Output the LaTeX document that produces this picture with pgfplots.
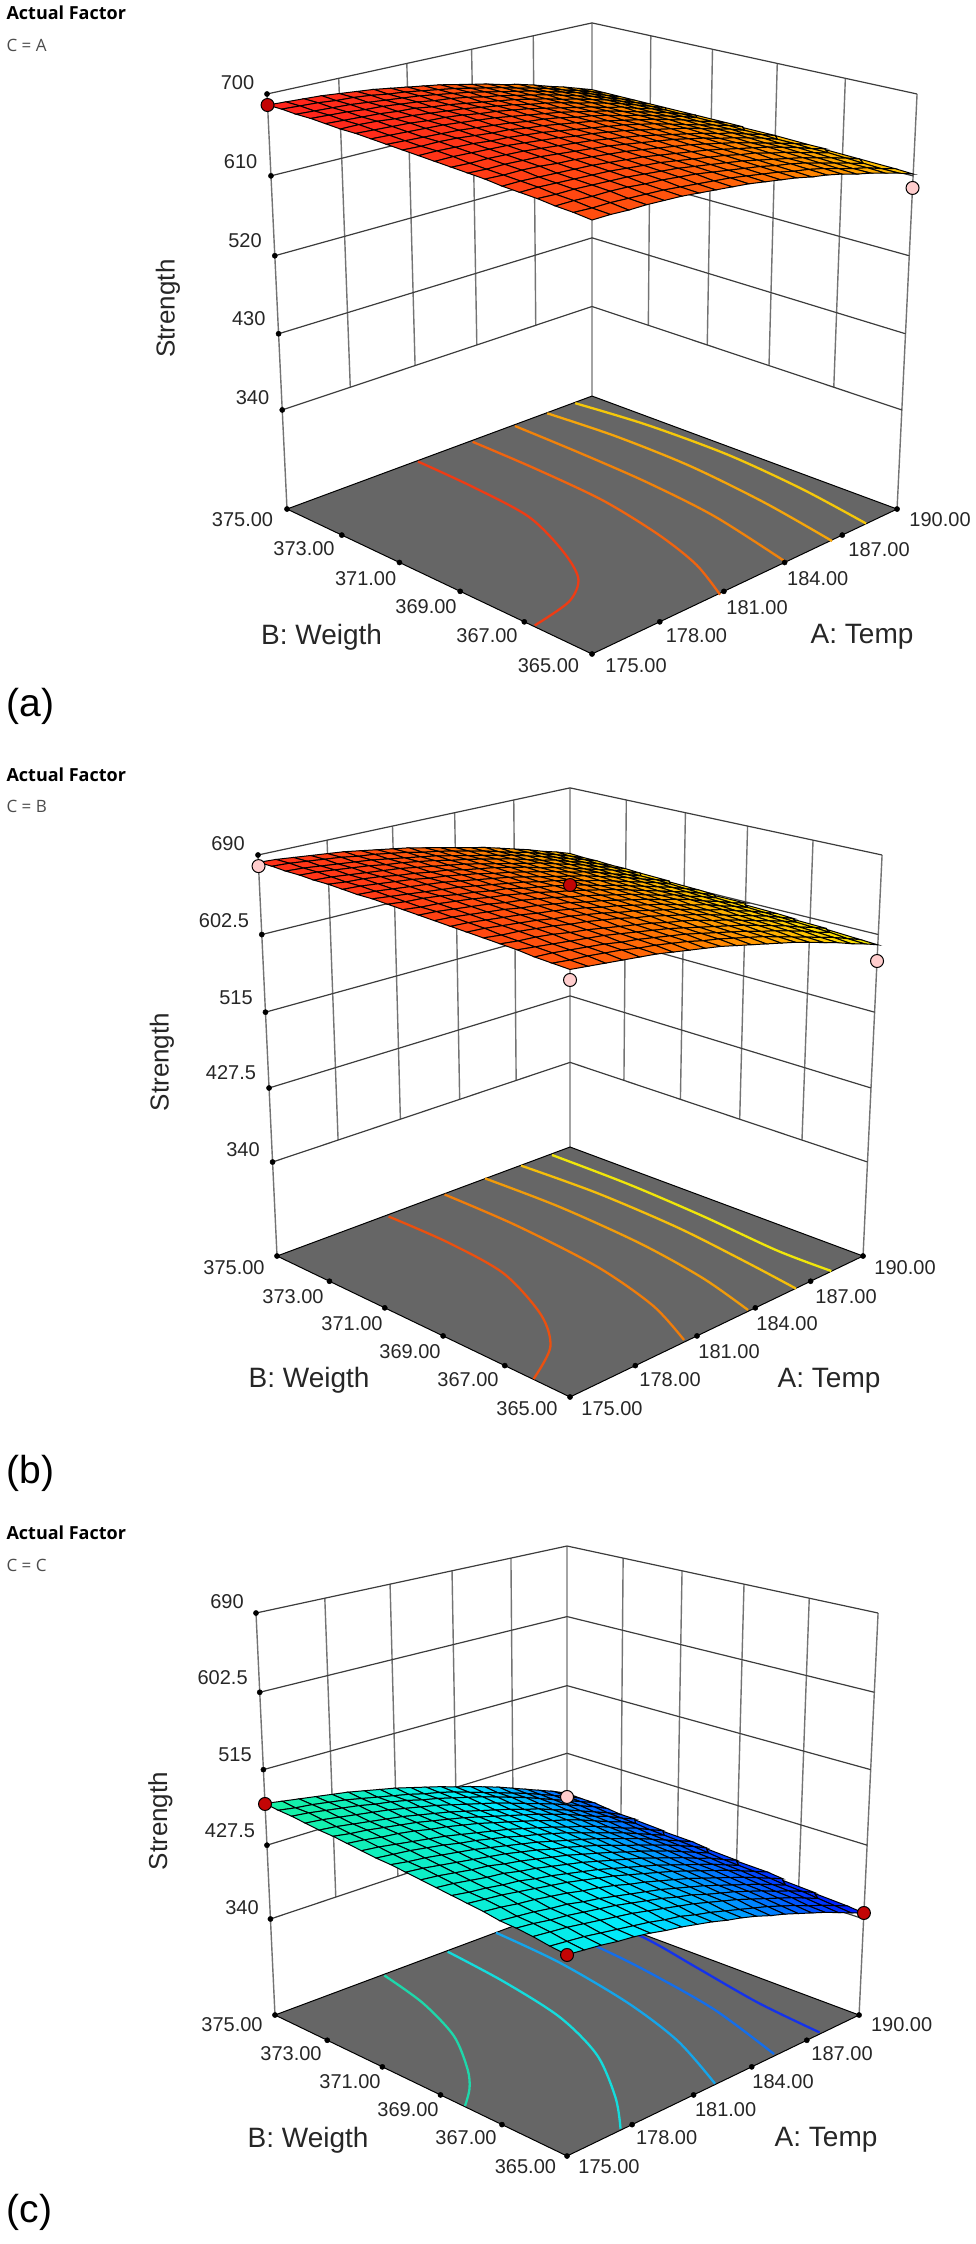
\documentclass[border=0pt]{standalone}
\usepackage{pgfplots}
\pgfplotsset{compat=1.18}
\usepackage{fontspec}
\setmainfont{Liberation Sans}
\newfontfamily\factorfont{Open Sans}
\definecolor{gridc}{RGB}{60,60,60}
\definecolor{gridv}{RGB}{115,115,115}
\definecolor{floorc}{RGB}{102,102,102}
\definecolor{mred}{RGB}{195,5,5}
\definecolor{mpink}{RGB}{255,205,205}
\definecolor{ca1}{RGB}{238,60,20}
\definecolor{ca2}{RGB}{240,100,15}
\definecolor{ca3}{RGB}{240,130,10}
\definecolor{ca4}{RGB}{245,165,10}
\definecolor{ca5}{RGB}{245,200,10}
\definecolor{cb1}{RGB}{235,80,15}
\definecolor{cb2}{RGB}{240,125,10}
\definecolor{cb3}{RGB}{240,155,10}
\definecolor{cb4}{RGB}{245,190,10}
\definecolor{cb5}{RGB}{240,230,10}
\definecolor{cc1}{RGB}{30,215,170}
\definecolor{cc2}{RGB}{20,220,220}
\definecolor{cc3}{RGB}{20,165,235}
\definecolor{cc4}{RGB}{20,110,235}
\definecolor{cc5}{RGB}{20,50,235}
\pgfplotsset{
 /pgfplots/table/pa/.style={x expr={Xa(\thisrow{A},\thisrow{B},\thisrow{S})},y expr={Ya(\thisrow{A},\thisrow{B},\thisrow{S})},z expr=0},
 /pgfplots/table/pb/.style={x expr={Xb(\thisrow{A},\thisrow{B},\thisrow{S})},y expr={Yb(\thisrow{A},\thisrow{B},\thisrow{S})},z expr=0},
 /pgfplots/table/pc/.style={x expr={Xc(\thisrow{A},\thisrow{B},\thisrow{S})},y expr={Yc(\thisrow{A},\thisrow{B},\thisrow{S})},z expr=0},
 gridl/.style={gridc,line width=1.2pt,no marks,empty line=jump,unbounded coords=jump},
 gridw/.style={gridv,line width=1.4pt,no marks,empty line=jump,unbounded coords=jump},
 dots/.style={only marks,mark=*,mark size=2.6pt,black,mark options={fill=black,draw=black}},
 mk/.style={only marks,mark=*,mark size=6.5pt,mark options={fill=#1,draw=black,line width=1pt}},
 cont/.style={smooth,no marks,line width=2.3pt,color=#1},
 srf/.style={surf,shader=faceted,faceted color=black,line width=1pt,mesh/rows=21,mesh/cols=21,
 point meta min=340,point meta max=690,point meta=\thisrowno{0}},
}
\newcommand\tl[3]{\node[font=\fontsize{20}{20}\selectfont,text=black!85] at (axis cs:#1,#2,0) {#3};}
\newcommand\al[3]{\node[font=\fontsize{28}{28}\selectfont,text=black!85] at (axis cs:#1,#2,0) {#3};}
\newcommand\hdr[3]{%
\node[anchor=west,font=\factorfont\bfseries\fontsize{18}{18}\selectfont] at (axis cs:3,#1,0) {Actual Factor};
\node[anchor=west,font=\factorfont\fontsize{17}{17}\selectfont,text=black!70] at (axis cs:3,#2,0) {#3};}
\begin{document}
\begin{tikzpicture}
\useasboundingbox (0,0) rectangle (975pt,2244pt);
\begin{axis}[at={(0,0)},anchor=south west,width=975pt,height=2244pt,scale only axis,
 hide axis,clip=false,view={0}{90},xmin=0,xmax=975,ymin=0,ymax=2244,zmin=-1,zmax=1,y dir=reverse,
 colormap={de}{rgb255=(0,0,255) rgb255=(0,110,255) rgb255=(0,235,255) rgb255=(20,240,170) rgb255=(60,255,60) rgb255=(170,255,0) rgb255=(255,220,0) rgb255=(255,125,0) rgb255=(255,30,30)},
 declare function={
 ss(\pp,\qq)=(\pp-175)/15+(\qq-365)/10;
 dd(\pp,\qq)=(\pp-175)/15-(\qq-365)/10;
 fa(\rr)=(\rr-219.7)/480.3;
 Da(\pp,\qq,\rr)=1+0.1416*ss(\pp,\qq)-0.0702*fa(\rr);
 Xa(\pp,\qq,\rr)=592+348.2*dd(\pp,\qq)/Da(\pp,\qq,\rr);
 Ya(\pp,\qq,\rr)=654-(165.5*ss(\pp,\qq)+434.5*fa(\rr))/Da(\pp,\qq,\rr);
 fb(\rr)=(\rr-225.9)/464.1;
 Db(\pp,\qq,\rr)=1+0.1468*ss(\pp,\qq)-0.0699*fb(\rr);
 Xb(\pp,\qq,\rr)=570+336.0*dd(\pp,\qq)/Db(\pp,\qq,\rr);
 Yb(\pp,\qq,\rr)=1397-(161.7*ss(\pp,\qq)+422.0*fb(\rr))/Db(\pp,\qq,\rr);
 fc(\rr)=(\rr-223)/467;
 Dc(\pp,\qq,\rr)=1+0.1468*ss(\pp,\qq)-0.07*fc(\rr);
 Xc(\pp,\qq,\rr)=567+334.9*dd(\pp,\qq)/Dc(\pp,\qq,\rr);
 Yc(\pp,\qq,\rr)=2156-(161.7*ss(\pp,\qq)+423.0*fc(\rr))/Dc(\pp,\qq,\rr);
 }]

% ---------- panel (a)
\addplot[gridw] table[pa] {
A B S
175 375 219.7
175 375 700

178 375 340
178 375 700

181 375 340
181 375 700

184 375 340
184 375 700

187 375 340
187 375 700

190 375 219.7
190 375 700

190 373 340
190 373 700

190 371 340
190 371 700

190 369 340
190 369 700

190 367 340
190 367 700

190 365 219.7
190 365 700
};
\addplot[gridl] table[pa] {
A B S
175 375 340
190 375 340
190 365 340

175 375 430
190 375 430
190 365 430

175 375 520
190 375 520
190 365 520

175 375 610
190 375 610
190 365 610

175 375 700
190 375 700
190 365 700
};
\addplot[fill=floorc,draw=black,line width=1pt] table[pa] {
A B S
175 365 219.7
190 365 219.7
190 375 219.7
175 375 219.7
175 365 219.7
};
\addplot[cont=ca1] coordinates {(418,461.5)(472.6,486.8)(528.5,516.6)(562.7,551)(578.3,578.6)(569,601.6)(534.7,625.4)};
\addplot[cont=ca2] coordinates {(472.6,441.8)(534.7,468.4)(603,500.5)(659,535)(696.4,564.8)(720,594.7)};
\addplot[cont=ca3] coordinates {(514.9,426)(578.3,452.3)(646.7,482.2)(715,516.6)(786.6,562.5)};
\addplot[cont=ca4] coordinates {(547.2,413.3)(615.6,436.2)(690.2,466.1)(764.8,502.8)(832,541)};
\addplot[cont=ca5] coordinates {(575.2,403.2)(646.7,424.8)(727.5,454.6)(802,489)(866,523.5)};
\addplot[dots] table[pa] {
A B S
175 365 219.7
178 365 219.7
181 365 219.7
184 365 219.7
187 365 219.7
190 365 219.7
175 367 219.7
175 369 219.7
175 371 219.7
175 373 219.7
175 375 219.7
175 375 340
175 375 430
175 375 520
175 375 610
175 375 700
};
\addplot3[srf]
 table[row sep=\\,header=false,
 x expr={Xa(190-mod(\coordindex,21)*0.75,375-floor(\coordindex/21)*0.5,\thisrowno{0})},
 y expr={Ya(190-mod(\coordindex,21)*0.75,375-floor(\coordindex/21)*0.5,\thisrowno{0})},z expr=0] {
618\\624\\630\\635\\641\\646\\650\\655\\659\\663\\667\\670\\673\\676\\679\\681\\683\\685\\686\\687\\688\\
618\\624\\630\\635\\641\\646\\650\\655\\659\\663\\667\\670\\673\\676\\678\\681\\683\\684\\686\\687\\688\\
618\\624\\630\\636\\641\\646\\651\\655\\659\\663\\667\\670\\673\\676\\678\\680\\682\\684\\685\\686\\687\\
618\\624\\630\\636\\641\\646\\651\\655\\659\\663\\666\\670\\673\\675\\678\\680\\682\\683\\685\\686\\687\\
618\\624\\630\\636\\641\\646\\650\\655\\659\\663\\666\\669\\672\\675\\677\\680\\681\\683\\684\\685\\686\\
618\\624\\630\\636\\641\\646\\650\\655\\659\\662\\666\\669\\672\\675\\677\\679\\681\\682\\684\\685\\685\\
618\\624\\630\\635\\641\\645\\650\\654\\658\\662\\666\\669\\672\\674\\677\\679\\680\\682\\683\\684\\685\\
618\\624\\630\\635\\640\\645\\650\\654\\658\\662\\665\\668\\671\\674\\676\\678\\680\\681\\682\\683\\684\\
618\\624\\630\\635\\640\\645\\649\\654\\658\\661\\665\\668\\670\\673\\675\\677\\679\\680\\681\\682\\683\\
618\\624\\629\\635\\640\\645\\649\\653\\657\\661\\664\\667\\670\\672\\675\\676\\678\\680\\681\\681\\682\\
618\\624\\629\\634\\639\\644\\649\\653\\657\\660\\663\\666\\669\\672\\674\\676\\677\\679\\680\\681\\681\\
617\\623\\629\\634\\639\\644\\648\\652\\656\\660\\663\\666\\668\\671\\673\\675\\677\\678\\679\\680\\680\\
617\\623\\628\\634\\638\\643\\647\\651\\655\\659\\662\\665\\668\\670\\672\\674\\676\\677\\678\\678\\679\\
617\\622\\628\\633\\638\\642\\647\\651\\655\\658\\661\\664\\667\\669\\671\\673\\675\\676\\677\\677\\678\\
616\\622\\627\\632\\637\\642\\646\\650\\654\\657\\660\\663\\666\\668\\670\\672\\673\\675\\676\\676\\677\\
616\\621\\627\\632\\637\\641\\645\\649\\653\\656\\659\\662\\665\\667\\669\\671\\672\\673\\674\\675\\675\\
615\\621\\626\\631\\636\\640\\645\\648\\652\\655\\658\\661\\664\\666\\668\\670\\671\\672\\673\\674\\674\\
614\\620\\625\\630\\635\\639\\643\\647\\651\\654\\657\\660\\663\\665\\667\\669\\670\\671\\672\\672\\673\\
614\\619\\624\\629\\634\\639\\643\\646\\650\\653\\656\\659\\662\\664\\666\\667\\669\\670\\670\\671\\671\\
613\\618\\624\\628\\633\\638\\642\\645\\649\\652\\655\\658\\660\\662\\664\\666\\667\\668\\669\\669\\670\\
612\\618\\623\\628\\632\\637\\641\\644\\648\\651\\654\\657\\659\\661\\663\\665\\666\\667\\667\\668\\668\\
};
\addplot[mk=mred] table[pa] {
A B S
175 375 688
};
\addplot[mk=mpink] table[pa] {
A B S
190 365 596.5
};
\tl{237.5}{83}{700}\tl{240.6}{162}{610}\tl{245}{240.6}{520}\tl{248.7}{319}{430}\tl{252.5}{398}{340}
\tl{242.5}{520}{375.00}\tl{304}{549}{373.00}\tl{365.6}{578.6}{371.00}\tl{426}{607}{369.00}\tl{487}{636}{367.00}\tl{548.4}{666}{365.00}
\tl{636}{666}{175.00}\tl{696.4}{636}{178.00}\tl{757}{607.5}{181.00}\tl{817.7}{578.6}{184.00}\tl{879}{550}{187.00}\tl{940}{520}{190.00}
\node[rotate=90,font=\fontsize{26}{26}\selectfont,text=black!85] at (axis cs:168,308.6,0) {Strength};
\al{321.5}{637}{B: Weigth}\al{862}{637}{A: Temp}
\hdr{13}{45}{C = A}
\node[anchor=west,font=\fontsize{39}{39}\selectfont] at (axis cs:3,706,0) {(a)};

% ---------- panel (b)
\addplot[gridw] table[pb] {
A B S
175 375 225.9
175 375 690

178 375 340
178 375 690

181 375 340
181 375 690

184 375 340
184 375 690

187 375 340
187 375 690

190 375 225.9
190 375 690

190 373 340
190 373 690

190 371 340
190 371 690

190 369 340
190 369 690

190 367 340
190 367 690

190 365 225.9
190 365 690
};
\addplot[gridl] table[pb] {
A B S
175 375 340
190 375 340
190 365 340

175 375 427.5
190 375 427.5
190 365 427.5

175 375 515
190 375 515
190 365 515

175 375 602.5
190 375 602.5
190 365 602.5

175 375 690
190 375 690
190 365 690
};
\addplot[fill=floorc,draw=black,line width=1pt] table[pb] {
A B S
175 365 225.9
190 365 225.9
190 375 225.9
175 375 225.9
175 365 225.9
};
\addplot[cont=cb1] coordinates {(388.6,1216.5)(447.7,1242.3)(503.7,1273.5)(541,1314.8)(550.3,1347)(533.5,1379)};
\addplot[cont=cb2] coordinates {(444.6,1194.5)(516,1225.3)(597,1266.6)(652.9,1305.6)(684,1340)};
\addplot[cont=cb3] coordinates {(485,1178.4)(559.6,1206.9)(640.5,1243.6)(702.6,1278)(748,1310)};
\addplot[cont=cb4] coordinates {(521,1165.6)(597,1193)(677.8,1227.6)(746,1262)(796,1288.6)};
\addplot[cont=cb5] coordinates {(552,1155)(628,1184)(702.6,1216)(777,1250.5)(831.3,1271)};
\addplot[dots] table[pb] {
A B S
175 365 225.9
178 365 225.9
181 365 225.9
184 365 225.9
187 365 225.9
190 365 225.9
175 367 225.9
175 369 225.9
175 371 225.9
175 373 225.9
175 375 225.9
175 375 340
175 375 427.5
175 375 515
175 375 602.5
175 375 690
};
\addplot3[srf]
 table[row sep=\\,header=false,
 x expr={Xb(190-mod(\coordindex,21)*0.75,375-floor(\coordindex/21)*0.5,\thisrowno{0})},
 y expr={Yb(190-mod(\coordindex,21)*0.75,375-floor(\coordindex/21)*0.5,\thisrowno{0})},z expr=0] {
609\\615\\620\\626\\631\\636\\641\\645\\649\\653\\657\\661\\664\\667\\670\\673\\675\\677\\679\\681\\682\\
608\\614\\620\\625\\631\\635\\640\\645\\649\\653\\657\\660\\664\\667\\670\\672\\675\\677\\679\\681\\682\\
608\\614\\619\\625\\630\\635\\640\\644\\648\\652\\656\\660\\663\\666\\669\\672\\674\\676\\678\\680\\681\\
607\\613\\619\\624\\630\\634\\639\\644\\648\\652\\656\\659\\663\\666\\669\\671\\674\\676\\678\\680\\681\\
607\\613\\618\\624\\629\\634\\639\\643\\647\\651\\655\\659\\662\\665\\668\\671\\673\\675\\677\\679\\680\\
606\\612\\618\\623\\628\\633\\638\\642\\647\\651\\655\\658\\661\\665\\667\\670\\672\\675\\677\\678\\680\\
606\\611\\617\\622\\628\\633\\637\\642\\646\\650\\654\\657\\661\\664\\667\\669\\672\\674\\676\\678\\679\\
605\\611\\616\\622\\627\\632\\637\\641\\645\\649\\653\\657\\660\\663\\666\\669\\671\\673\\675\\677\\678\\
604\\610\\616\\621\\626\\631\\636\\640\\645\\649\\652\\656\\659\\662\\665\\668\\670\\672\\674\\676\\678\\
603\\609\\615\\620\\625\\630\\635\\639\\644\\648\\652\\655\\658\\662\\664\\667\\669\\672\\674\\675\\677\\
602\\608\\614\\619\\624\\629\\634\\639\\643\\647\\651\\654\\658\\661\\664\\666\\669\\671\\673\\674\\676\\
601\\607\\613\\618\\624\\628\\633\\638\\642\\646\\650\\653\\657\\660\\663\\665\\668\\670\\672\\674\\675\\
601\\606\\612\\617\\623\\628\\632\\637\\641\\645\\649\\652\\656\\659\\662\\664\\667\\669\\671\\673\\674\\
599\\605\\611\\616\\622\\626\\631\\636\\640\\644\\648\\651\\655\\658\\661\\663\\666\\668\\670\\672\\673\\
598\\604\\610\\615\\621\\625\\630\\635\\639\\643\\647\\650\\654\\657\\660\\662\\665\\667\\669\\671\\672\\
597\\603\\609\\614\\619\\624\\629\\634\\638\\642\\646\\649\\653\\656\\659\\661\\664\\666\\668\\669\\671\\
596\\602\\608\\613\\618\\623\\628\\632\\637\\641\\644\\648\\651\\654\\657\\660\\662\\665\\667\\668\\670\\
595\\601\\606\\612\\617\\622\\627\\631\\635\\639\\643\\647\\650\\653\\656\\659\\661\\663\\665\\667\\669\\
594\\600\\605\\611\\616\\621\\625\\630\\634\\638\\642\\646\\649\\652\\655\\657\\660\\662\\664\\666\\667\\
592\\598\\604\\609\\614\\619\\624\\629\\633\\637\\641\\644\\648\\651\\654\\656\\659\\661\\663\\664\\666\\
591\\597\\602\\608\\613\\618\\623\\627\\631\\635\\639\\643\\646\\649\\652\\655\\657\\659\\661\\663\\665\\
};
\addplot[mk=mpink] table[pb] {
A B S
175 375 677.9
175 365 654.9
190 365 572.9
};
\addplot[mk=mred] table[pb] {
A B S
190 375 569.5
};
\tl{228}{844}{690}\tl{224}{921}{602.5}\tl{236}{998}{515}\tl{231}{1073}{427.5}\tl{243}{1150}{340}
\tl{234}{1267.5}{375.00}\tl{293}{1296.5}{373.00}\tl{352}{1324}{371.00}\tl{410}{1352}{369.00}\tl{468}{1380}{367.00}\tl{527}{1408.5}{365.00}
\tl{612}{1408.5}{175.00}\tl{670}{1380}{178.00}\tl{729}{1352}{181.00}\tl{787}{1324}{184.00}\tl{846}{1296.5}{187.00}\tl{905}{1267.5}{190.00}
\node[rotate=90,font=\fontsize{26}{26}\selectfont,text=black!85] at (axis cs:162,1062,0) {Strength};
\al{309}{1380.5}{B: Weigth}\al{829}{1380.5}{A: Temp}
\hdr{775}{806}{C = B}
\node[anchor=west,font=\fontsize{39}{39}\selectfont] at (axis cs:3,1473,0) {(b)};

% ---------- panel (c)
\addplot[gridw] table[pc] {
A B S
175 375 223
175 375 690

178 375 340
178 375 690

181 375 340
181 375 690

184 375 340
184 375 690

187 375 340
187 375 690

190 375 223
190 375 690

190 373 340
190 373 690

190 371 340
190 371 690

190 369 340
190 369 690

190 367 340
190 367 690

190 365 223
190 365 690
};
\addplot[gridl] table[pc] {
A B S
175 375 340
190 375 340
190 365 340

175 375 427.5
190 375 427.5
190 365 427.5

175 375 515
190 375 515
190 365 515

175 375 602.5
190 375 602.5
190 365 602.5

175 375 690
190 375 690
190 365 690
};
\addplot[mk=mpink] table[pc] {
A B S
190 375 370
};
\addplot[fill=floorc,draw=black,line width=1pt] table[pc] {
A B S
175 365 223
190 365 223
190 375 223
175 375 223
175 365 223
};
\addplot[cont=cc1] coordinates {(384.3,1975.4)(422.8,2003)(453.9,2036)(467.6,2069.4)(469.5,2088.4)(465,2106)};
\addplot[cont=cc2] coordinates {(447.7,1951.7)(503.7,1981.6)(559.6,2017)(597,2055)(615.6,2097.9)(620.5,2128.7)};
\addplot[cont=cc3] coordinates {(496,1932.7)(559.6,1962.6)(628,2003)(677.8,2041)(715,2083.6)};
\addplot[cont=cc4] coordinates {(522,1913)(606,1950.8)(652.9,1974.5)(715,2010)(774,2054)};
\addplot[cont=cc5] coordinates {(578,1908)(646.7,1939)(696.4,1967.4)(758.6,2003)(819.5,2032.4)};
\addplot[dots] table[pc] {
A B S
175 365 223
178 365 223
181 365 223
184 365 223
187 365 223
190 365 223
175 367 223
175 369 223
175 371 223
175 373 223
175 375 223
175 375 340
175 375 427.5
175 375 515
175 375 602.5
175 375 690
};
\addplot3[srf]
 table[row sep=\\,header=false,
 x expr={Xc(190-mod(\coordindex,21)*0.75,375-floor(\coordindex/21)*0.5,\thisrowno{0})},
 y expr={Yc(190-mod(\coordindex,21)*0.75,375-floor(\coordindex/21)*0.5,\thisrowno{0})},z expr=0] {
375\\383\\390\\397\\404\\411\\417\\423\\428\\434\\439\\444\\449\\453\\457\\461\\464\\467\\470\\473\\476\\
374\\382\\389\\396\\403\\409\\415\\421\\427\\433\\438\\442\\447\\451\\455\\459\\463\\466\\469\\471\\474\\
374\\381\\388\\395\\402\\409\\415\\421\\427\\432\\437\\442\\446\\451\\455\\458\\462\\465\\468\\471\\473\\
372\\380\\387\\394\\401\\407\\413\\419\\425\\430\\435\\440\\445\\449\\453\\457\\460\\463\\466\\469\\471\\
370\\378\\385\\392\\399\\405\\412\\417\\423\\428\\433\\438\\443\\447\\451\\455\\458\\461\\464\\467\\469\\
370\\377\\385\\391\\398\\405\\411\\417\\422\\427\\432\\437\\442\\446\\450\\454\\457\\460\\463\\465\\468\\
369\\376\\384\\390\\397\\404\\410\\415\\421\\426\\431\\436\\441\\445\\449\\452\\456\\459\\461\\464\\466\\
367\\374\\382\\388\\395\\402\\408\\413\\419\\424\\429\\434\\438\\442\\446\\450\\453\\456\\459\\462\\464\\
366\\373\\380\\387\\394\\400\\406\\412\\418\\423\\428\\432\\437\\441\\445\\448\\452\\455\\458\\460\\462\\
365\\372\\379\\386\\393\\399\\405\\411\\416\\421\\426\\431\\435\\439\\443\\447\\450\\453\\456\\458\\461\\
363\\371\\378\\385\\391\\397\\403\\409\\415\\420\\425\\429\\434\\438\\442\\445\\448\\451\\454\\457\\459\\
362\\369\\376\\383\\390\\396\\402\\407\\413\\418\\423\\428\\432\\436\\440\\443\\447\\449\\452\\455\\457\\
360\\367\\375\\381\\388\\394\\400\\406\\411\\416\\421\\426\\430\\434\\438\\441\\445\\447\\450\\453\\455\\
359\\366\\373\\380\\386\\392\\398\\404\\409\\414\\419\\424\\428\\432\\436\\439\\443\\445\\448\\450\\453\\
358\\365\\372\\379\\385\\391\\397\\403\\408\\413\\418\\423\\427\\431\\435\\438\\441\\444\\447\\449\\451\\
356\\363\\370\\377\\383\\389\\395\\401\\406\\411\\416\\420\\425\\429\\432\\436\\439\\442\\444\\447\\449\\
354\\361\\368\\375\\381\\387\\393\\399\\404\\409\\414\\418\\422\\426\\430\\433\\437\\439\\442\\444\\446\\
352\\360\\367\\373\\380\\386\\392\\397\\402\\408\\412\\417\\421\\425\\429\\432\\435\\438\\440\\443\\445\\
351\\358\\365\\372\\378\\384\\390\\396\\401\\406\\411\\415\\419\\423\\427\\430\\433\\436\\439\\441\\443\\
349\\356\\363\\369\\376\\382\\388\\393\\398\\403\\408\\412\\417\\420\\424\\427\\430\\433\\436\\438\\440\\
347\\354\\361\\368\\374\\380\\386\\391\\397\\402\\406\\411\\415\\419\\422\\426\\429\\431\\434\\436\\438\\
};
\addplot[mk=mred] table[pc] {
A B S
175 375 475.5
190 365 347.2
175 365 437.8
};
\tl{227}{1602}{690}\tl{222.6}{1678}{602.5}\tl{235}{1755}{515}\tl{230}{1831}{427.5}\tl{242}{1908}{340}
\tl{232}{2025}{375.00}\tl{291}{2054}{373.00}\tl{350}{2082}{371.00}\tl{408}{2110}{369.00}\tl{466}{2138}{367.00}\tl{525.4}{2167}{365.00}
\tl{609}{2167}{175.00}\tl{666.6}{2138}{178.00}\tl{725.6}{2110}{181.00}\tl{783}{2082}{184.00}\tl{842}{2054}{187.00}\tl{901.6}{2025}{190.00}
\node[rotate=90,font=\fontsize{26}{26}\selectfont,text=black!85] at (axis cs:160.4,1821,0) {Strength};
\al{308}{2140}{B: Weigth}\al{826}{2140}{A: Temp}
\hdr{1533}{1565}{C = C}
\node[anchor=west,font=\fontsize{39}{39}\selectfont] at (axis cs:3,2212,0) {(c)};
\end{axis}
\end{tikzpicture}
\end{document}
